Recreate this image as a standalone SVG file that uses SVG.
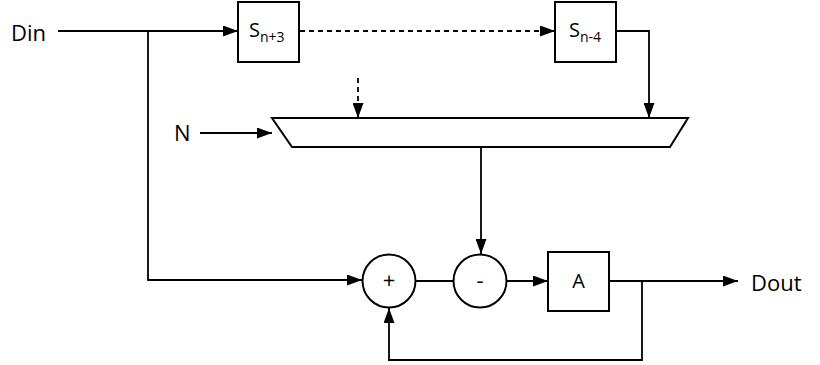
<svg xmlns="http://www.w3.org/2000/svg" width="820" height="365" viewBox="0 0 820 365">
<style>
.ln{fill:none;stroke:#000;stroke-width:1.8}
.dash{stroke-dasharray:5 4}
.box{fill:#fff;stroke:#000;stroke-width:2}
.t{font-family:"Open Sans","DejaVu Sans",sans-serif;fill:#000}
.big{font-size:22px}
.lab{font-size:20px}
.op{font-size:22px}
.sub{font-size:14px}
</style>
<defs>
<marker id="ah" viewBox="0 0 15 11" refX="15" refY="5.5" markerWidth="15" markerHeight="11" markerUnits="userSpaceOnUse" orient="auto">
<path d="M0,0 L15,5.5 L0,11 Z" fill="#000"/>
</marker>
</defs>
<rect width="820" height="365" fill="#fff"/>
<g id="connectors">
<path class="ln" d="M58,31 H238" marker-end="url(#ah)"/>
<path class="ln" d="M148,31 V280 H362" marker-end="url(#ah)"/>
<path class="ln dash" d="M300,31 H555" marker-end="url(#ah)"/>
<path class="ln" d="M616,31 H649 V118" marker-end="url(#ah)"/>
<path class="ln dash" d="M358,78 V118" marker-end="url(#ah)"/>
<path class="ln" d="M200,133 H272" marker-end="url(#ah)"/>
<path class="ln" d="M481,147 V254" marker-end="url(#ah)"/>
<path class="ln" d="M416,281 H454"/>
<path class="ln" d="M507,281 H548" marker-end="url(#ah)"/>
<path class="ln" d="M609,281 H738" marker-end="url(#ah)"/>
<path class="ln" d="M642,281 V360 H389 V308" marker-end="url(#ah)"/>
</g>
<g id="din"><text class="t big" x="11" y="41">Din</text></g>
<g id="dout"><text class="t big" x="751" y="291">Dout</text></g>
<g id="n"><text class="t big" x="174" y="141">N</text></g>
<g id="sn3">
<rect class="box" x="238" y="2" width="61" height="60"/>
<text class="t lab" x="249" y="37">S<tspan class="sub" dy="5">n+3</tspan></text>
</g>
<g id="sn4">
<rect class="box" x="555" y="2" width="61" height="60"/>
<text class="t lab" x="569" y="37">S<tspan class="sub" dy="5">n-4</tspan></text>
</g>
<g id="mux">
<polygon class="box" points="272,118 688,118 670,147 292,147"/>
</g>
<g id="plus">
<circle class="box" cx="389" cy="281" r="26.5"/>
<text class="t op" x="389" y="288" text-anchor="middle">+</text>
</g>
<g id="minus">
<circle class="box" cx="480" cy="281" r="26.5"/>
<text class="t op" x="480" y="288" text-anchor="middle">-</text>
</g>
<g id="a">
<rect class="box" x="548" y="252" width="61" height="59"/>
<text class="t lab" x="578.5" y="288" text-anchor="middle">A</text>
</g>
</svg>
